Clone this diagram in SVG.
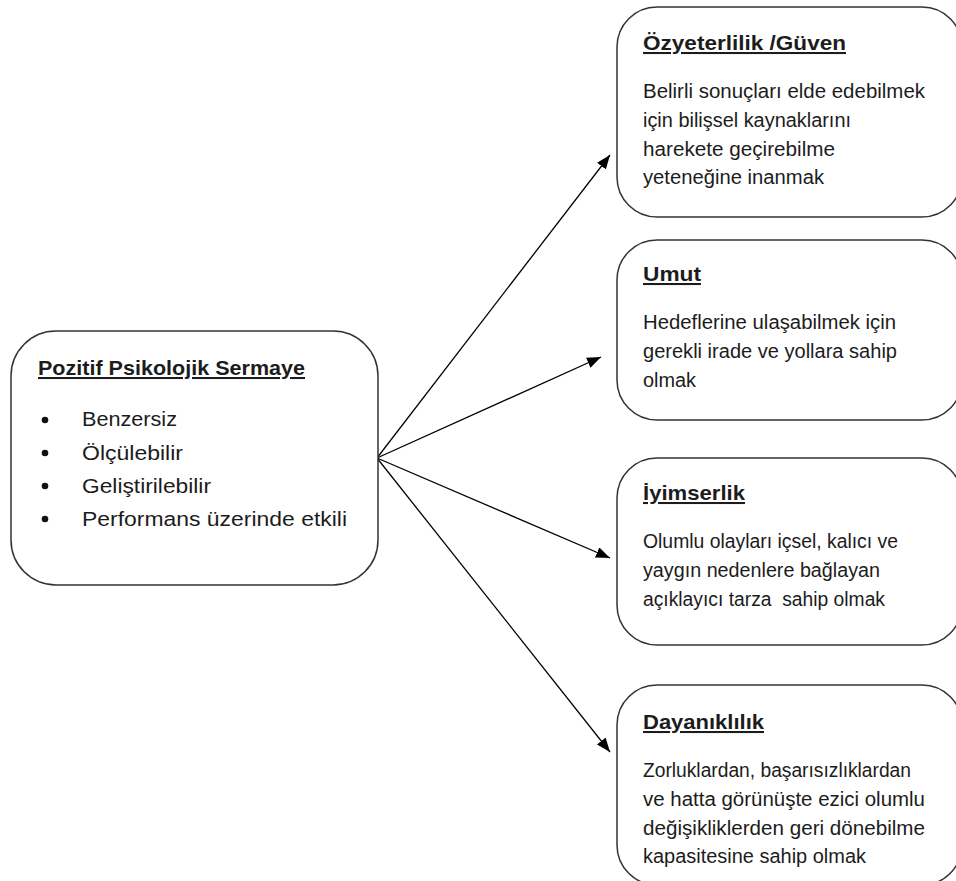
<svg xmlns="http://www.w3.org/2000/svg" width="956" height="881" viewBox="0 0 956 881">
<defs>
<marker id="ah" viewBox="0 0 14 11" refX="14" refY="5.5" markerWidth="14" markerHeight="11" markerUnits="userSpaceOnUse" orient="auto">
<path d="M0,0 L14,5.5 L0,11 z" fill="#000"/>
</marker>
</defs>
<style>
.box{fill:#fff;stroke:#333;stroke-width:1.5}
.t{font-family:"Liberation Sans",Arial,sans-serif;fill:#1c1c1c}
.h{font-size:20.5px;font-weight:bold;text-decoration:underline}
.b{font-size:19.5px}
.l{font-size:20.5px}
.c{stroke:#000;stroke-width:1.3;fill:none;marker-end:url(#ah)}
</style>
<rect width="956" height="881" fill="#fff"/>
<g id="connectors">
<line class="c" x1="377" y1="458" x2="610" y2="155"/>
<line class="c" x1="377" y1="458" x2="601" y2="357"/>
<line class="c" x1="377" y1="458" x2="610" y2="558"/>
<line class="c" x1="377" y1="458" x2="610" y2="752"/>
</g>
<g id="pozitif">
<rect class="box" x="11" y="331" width="367" height="254" rx="45"/>
<text class="t h" x="38" y="375" textLength="267" lengthAdjust="spacingAndGlyphs">Pozitif Psikolojik Sermaye</text>
<g class="t l">
<circle cx="45" cy="420" r="3.3" fill="#111"/>
<circle cx="45" cy="453" r="3.3" fill="#111"/>
<circle cx="45" cy="486" r="3.3" fill="#111"/>
<circle cx="45" cy="519" r="3.3" fill="#111"/>
<text x="82" y="426" textLength="95" lengthAdjust="spacingAndGlyphs">Benzersiz</text>
<text x="82" y="460" textLength="101" lengthAdjust="spacingAndGlyphs">Ölçülebilir</text>
<text x="82" y="493" textLength="129" lengthAdjust="spacingAndGlyphs">Geliştirilebilir</text>
<text x="82" y="526" textLength="265" lengthAdjust="spacingAndGlyphs">Performans üzerinde etkili</text>
</g>
</g>
<g id="ozyeterlilik">
<rect class="box" x="617" y="7" width="345" height="210" rx="40"/>
<text class="t h" x="643" y="50" textLength="203" lengthAdjust="spacingAndGlyphs">Özyeterlilik /Güven</text>
<g class="t b">
<text x="643" y="98" textLength="282" lengthAdjust="spacingAndGlyphs">Belirli sonuçları elde edebilmek</text>
<text x="643" y="127" textLength="208" lengthAdjust="spacingAndGlyphs">için bilişsel kaynaklarını</text>
<text x="643" y="156" textLength="192" lengthAdjust="spacingAndGlyphs">harekete geçirebilme</text>
<text x="643" y="184" textLength="181" lengthAdjust="spacingAndGlyphs">yeteneğine inanmak</text>
</g>
</g>
<g id="umut">
<rect class="box" x="617" y="240" width="345" height="180" rx="40"/>
<text class="t h" x="643" y="281" textLength="58" lengthAdjust="spacingAndGlyphs">Umut</text>
<g class="t b">
<text x="643" y="329" textLength="253" lengthAdjust="spacingAndGlyphs">Hedeflerine ulaşabilmek için</text>
<text x="643" y="358" textLength="254" lengthAdjust="spacingAndGlyphs">gerekli irade ve yollara sahip</text>
<text x="643" y="387" textLength="53" lengthAdjust="spacingAndGlyphs">olmak</text>
</g>
</g>
<g id="iyimserlik">
<rect class="box" x="617" y="458" width="345" height="187" rx="40"/>
<text class="t h" x="643" y="500" textLength="102" lengthAdjust="spacingAndGlyphs">İyimserlik</text>
<g class="t b">
<text x="643" y="548" textLength="255" lengthAdjust="spacingAndGlyphs">Olumlu olayları içsel, kalıcı ve</text>
<text x="643" y="577" textLength="237" lengthAdjust="spacingAndGlyphs">yaygın nedenlere bağlayan</text>
<text x="643" y="606" textLength="242" lengthAdjust="spacingAndGlyphs" style="white-space:pre">açıklayıcı tarza  sahip olmak</text>
</g>
</g>
<g id="dayaniklilik">
<rect class="box" x="617" y="685" width="345" height="200" rx="40"/>
<text class="t h" x="643" y="729" textLength="121" lengthAdjust="spacingAndGlyphs">Dayanıklılık</text>
<g class="t b">
<text x="643" y="777" textLength="268" lengthAdjust="spacingAndGlyphs">Zorluklardan, başarısızlıklardan</text>
<text x="643" y="806" textLength="282" lengthAdjust="spacingAndGlyphs">ve hatta görünüşte ezici olumlu</text>
<text x="643" y="835" textLength="282" lengthAdjust="spacingAndGlyphs">değişikliklerden geri dönebilme</text>
<text x="643" y="863" textLength="223" lengthAdjust="spacingAndGlyphs">kapasitesine sahip olmak</text>
</g>
</g>
</svg>
